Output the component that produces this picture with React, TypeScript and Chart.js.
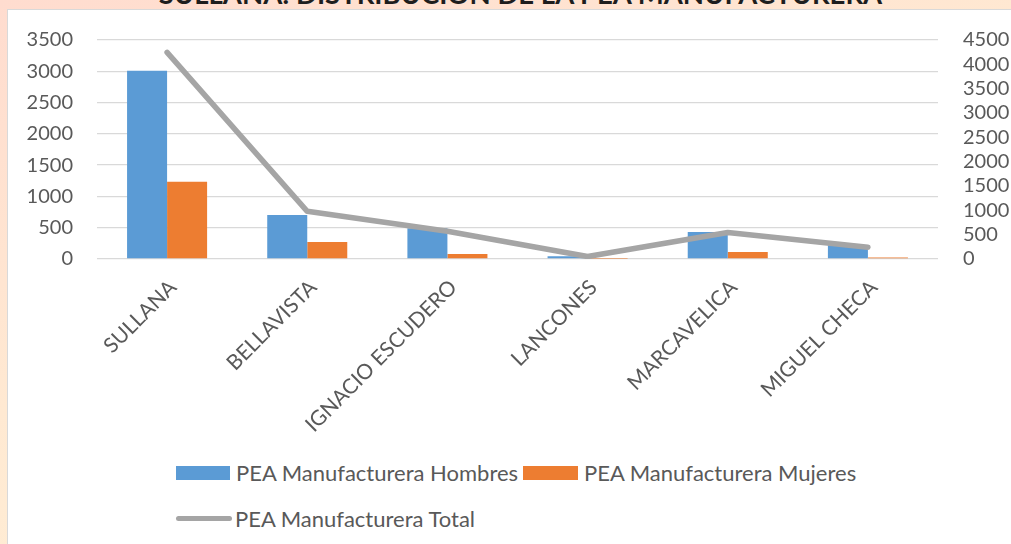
import React, { useEffect, useRef } from "react";
import { Chart, registerables } from "chart.js";

Chart.register(...registerables);

const categories = ["SULLANA", "BELLAVISTA", "IGNACIO ESCUDERO", "LANCONES", "MARCAVELICA", "MIGUEL CHECA"];
const hombres = [3010, 705, 490, 45, 430, 220];
const mujeres = [1235, 272, 80, 5, 112, 25];
const total = [4245, 980, 570, 50, 545, 240];
const leftTicks = [0, 3500, 500];
const rightTicks = [0, 4500, 500];
const title = "SULLANA: DISTRIBUCIÓN DE LA PEA MANUFACTURERA";
const seriesNames = ["PEA Manufacturera Hombres", "PEA Manufacturera Mujeres", "PEA Manufacturera Total"];
const colors = ["#5b9bd5", "#ed7d31", "#a5a5a5"];

const FONT = "Lato, 'Noto Sans', sans-serif";

export default function App() {
  const ref = useRef<HTMLCanvasElement | null>(null);
  useEffect(() => {
    document.body.style.margin = "0";
    const ctx = ref.current!;
    const plain = (v: any) => String(v);
    const chart = new Chart(ctx, {
      type: "bar",
      data: {
        labels: categories,
        datasets: [
          {
            type: "line",
            label: seriesNames[2],
            data: total,
            yAxisID: "y1",
            borderColor: colors[2],
            borderWidth: 5.5,
            borderCapStyle: "round",
            borderJoinStyle: "round",
            pointRadius: 0,
            tension: 0,
            order: 0,
          } as any,
          {
            type: "bar",
            label: seriesNames[0],
            data: hombres,
            yAxisID: "y",
            backgroundColor: colors[0],
            borderWidth: 0,
            categoryPercentage: 0.571,
            barPercentage: 1,
            order: 1,
          },
          {
            type: "bar",
            label: seriesNames[1],
            data: mujeres,
            yAxisID: "y",
            backgroundColor: colors[1],
            borderWidth: 0,
            categoryPercentage: 0.571,
            barPercentage: 1,
            order: 2,
          },
        ],
      },
      options: {
        animation: false,
        responsive: false,
        devicePixelRatio: 1,
        layout: { padding: { top: 30, left: 0, right: 0, bottom: 0 } },
        plugins: { legend: { display: false }, tooltip: { enabled: false } },
        scales: {
          x: {
            offset: true,
            grid: { display: false },
            border: { display: false },
            ticks: {
              color: "#595959",
              font: { family: FONT, size: 21 },
              minRotation: 45,
              maxRotation: 45,
              padding: 8,
              labelOffset: 6,
              autoSkip: false,
            },
            afterFit: (s: any) => {
              s.height = 440 - 249;
              s.paddingLeft = 0;
              s.paddingRight = 0;
            },
          },
          y: {
            position: "left",
            min: leftTicks[0],
            max: leftTicks[1],
            ticks: {
              stepSize: leftTicks[2],
              color: "#595959",
              font: { family: FONT, size: 20 },
              padding: 24,
              autoSkip: false,
              callback: plain,
            },
            grid: { color: "#d9d9d9", lineWidth: 1.3, drawTicks: false },
            border: { display: false },
            afterFit: (s: any) => {
              s.width = 89;
              s.paddingTop = 0;
              s.paddingBottom = 0;
            },
          },
          y1: {
            position: "right",
            min: rightTicks[0],
            max: rightTicks[1],
            ticks: {
              stepSize: rightTicks[2],
              color: "#595959",
              font: { family: FONT, size: 20 },
              padding: 25,
              autoSkip: false,
              callback: plain,
            },
            grid: { drawOnChartArea: false, drawTicks: false },
            border: { display: false },
            afterFit: (s: any) => {
              s.width = 73;
              s.paddingTop = 0;
              s.paddingBottom = 0;
            },
          },
        },
      },
    });
    return () => chart.destroy();
  }, []);

  const legendText: React.CSSProperties = {
    position: "absolute",
    fontFamily: FONT,
    fontSize: 22,
    color: "#595959",
    whiteSpace: "nowrap",
    lineHeight: "26px",
  };

  return (
    <div
      style={{
        position: "fixed",
        left: 0,
        top: 0,
        width: 1011,
        height: 544,
        overflow: "hidden",
        background: "linear-gradient(160deg, #ffdccf 0%, #ffe9d2 45%, #fff3d8 100%)",
      }}
    >
      <div
        style={{
          position: "absolute",
          left: 15,
          top: -20,
          width: 1011,
          textAlign: "center",
          fontFamily: FONT,
          fontWeight: 700,
          fontSize: 27.5,
          lineHeight: "28px",
          color: "#1e1e1e",
          whiteSpace: "nowrap",
        }}
      >
        {title}
      </div>
      <div
        style={{
          position: "absolute",
          left: 7,
          top: 9,
          width: 1020,
          height: 560,
          background: "#ffffff",
          borderLeft: "1px solid #d9d9d9",
          borderTop: "1px solid #d9d9d9",
        }}
      />
      <canvas
        ref={ref}
        width={1003}
        height={440}
        style={{ position: "absolute", left: 8, top: 10, width: 1003, height: 440 }}
      />
      <div style={{ position: "absolute", left: 176, top: 466, width: 54, height: 14, background: colors[0] }} />
      <div style={{ ...legendText, left: 236, top: 460 }}>{seriesNames[0]}</div>
      <div style={{ position: "absolute", left: 523, top: 466, width: 55, height: 14, background: colors[1] }} />
      <div style={{ ...legendText, left: 584, top: 460 }}>{seriesNames[1]}</div>
      <div
        style={{ position: "absolute", left: 176, top: 516, width: 56, height: 5, borderRadius: 3, background: colors[2] }}
      />
      <div style={{ ...legendText, left: 235, top: 506 }}>{seriesNames[2]}</div>
    </div>
  );
}
